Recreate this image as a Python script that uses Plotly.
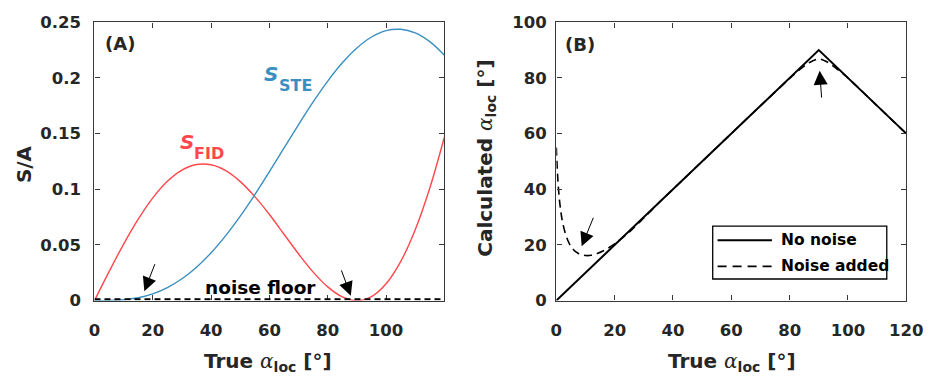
import plotly.graph_objects as go

# ---- data -------------------------------------------------------------
alpha_deg = [0, 5, 10, 15, 20, 25, 30, 35, 40, 45, 50, 55, 60,
             65, 70, 75, 80, 85, 90, 95, 100, 105, 110, 115, 120]
s_fid = [0.0, 0.0260, 0.0508, 0.0732, 0.0923, 0.1072, 0.1173, 0.1223,
         0.1220, 0.1167, 0.1069, 0.0934, 0.0773, 0.0596, 0.0419, 0.0256,
         0.0123, 0.0033, 0.0, 0.0036, 0.0151, 0.0350, 0.0637, 0.1012, 0.1470]
s_ste = [0.0, 0.0001, 0.0008, 0.0026, 0.0061, 0.0117, 0.0196, 0.0300,
         0.0430, 0.0584, 0.0759, 0.0953, 0.1159, 0.1371, 0.1582, 0.1785,
         0.1972, 0.2136, 0.2270, 0.2368, 0.2425, 0.2437, 0.2405, 0.2326, 0.2204]
noise_floor_x = [0, 120]
noise_floor_y = [0.0012, 0.0012]

true_alpha = [0, 90, 120]
calc_no_noise = [0, 90, 60]
true_alpha_noisy = [0, 0.5, 1, 1.5, 2, 3, 4, 5, 6, 7, 8, 10, 12, 14, 16, 18,
                    20, 22, 24, 26, 28, 30, 32, 35, 40, 50, 60, 70, 80, 83,
                    86, 88, 90, 92, 94, 97, 100, 110, 120]
calc_noisy = [55, 44, 37, 32.5, 29, 24.5, 21.5, 19.5, 18.2, 17.3, 16.7, 16.2,
              16.3, 16.9, 17.8, 19.0, 20.4, 22.0, 23.7, 25.6, 27.6, 29.7, 31.8,
              35, 40, 50, 60, 70, 79.8, 82.6, 85.0, 86.2, 86.8, 86.2, 85.0,
              82.6, 80, 70, 60]

# pointer arrows: (tail, tip) pairs in axis units
arrows_a = [((20.9, 0.0341), (17.1, 0.0085)), ((84.5, 0.0285), (87.9, 0.0043))]
arrows_b = [((12.9, 30.3), (8.7, 19.5)), ((91.0, 72.4), (90.3, 82.6))]

a_xticks = [0, 20, 40, 60, 80, 100]
a_yticks = [0, 0.05, 0.1, 0.15, 0.2, 0.25]
a_yticktext = ["0", "0.05", "0.1", "0.15", "0.2", "0.25"]
b_ticks = [0, 20, 40, 60, 80, 100, 120]
b_yticks = [0, 20, 40, 60, 80, 100]

# ---- styling ----------------------------------------------------------
RED = "#ff474c"
BLUE = "#3b8fc0"
FRAME = "#383838"
TXT = "#262626"
FONT = "DejaVu Sans"
W, H = 947, 386

fig = go.Figure()

fig.add_trace(go.Scatter(x=alpha_deg, y=s_fid, mode="lines", line_shape="spline",
                         line=dict(color=RED, width=1.4), xaxis="x", yaxis="y"))
fig.add_trace(go.Scatter(x=alpha_deg, y=s_ste, mode="lines", line_shape="spline",
                         line=dict(color=BLUE, width=1.4), xaxis="x", yaxis="y"))
fig.add_trace(go.Scatter(x=noise_floor_x, y=noise_floor_y, mode="lines",
                         line=dict(color="black", width=1.8, dash="6px,4px"),
                         xaxis="x", yaxis="y"))

fig.add_trace(go.Scatter(x=true_alpha, y=calc_no_noise, mode="lines",
                         line=dict(color="black", width=2), xaxis="x2", yaxis="y2"))
fig.add_trace(go.Scatter(x=true_alpha_noisy, y=calc_noisy, mode="lines",
                         line_shape="spline",
                         line=dict(color="black", width=1.6, dash="8px,5px"),
                         xaxis="x2", yaxis="y2"))

# plot-area geometry (pixels)
ax_l, ax_r = 90.7, 449.3
bx_l, bx_r = 564.0, 922.7
p_top, p_bot = 14.0, 306.7
ydom = [1 - p_bot / H, 1 - p_top / H]

common = dict(showgrid=False, zeroline=False, showline=True, linecolor=FRAME,
              linewidth=1.4, mirror="ticks", ticks="inside", ticklen=5,
              tickwidth=1.1, tickcolor=FRAME,
              tickfont=dict(family=FONT, size=16.5, color=TXT, weight="bold"))

fig.update_layout(
    width=W, height=H, margin=dict(l=0, r=0, t=0, b=0),
    paper_bgcolor="white", plot_bgcolor="white", showlegend=False,
    xaxis=dict(domain=[ax_l / W, ax_r / W], range=[0, 120], tickvals=a_xticks,
               anchor="y", ticklabelstandoff=14, layer="below traces", **common),
    yaxis=dict(domain=ydom, range=[0, 0.25], tickvals=a_yticks,
               ticktext=a_yticktext, anchor="x", ticklabelstandoff=9,
               layer="below traces", **common),
    xaxis2=dict(domain=[bx_l / W, bx_r / W], range=[0, 120], tickvals=b_ticks,
                anchor="y2", ticklabelstandoff=14, **common),
    yaxis2=dict(domain=ydom, range=[0, 100], tickvals=b_yticks, anchor="x2",
                ticklabelstandoff=5, **common),
)

ann = []


def label(text, x, y, size, xref="paper", yref="paper", color=TXT,
          angle=0, family=FONT, xanchor="center", yanchor="middle"):
    ann.append(dict(text=text, x=x, y=y, xref=xref, yref=yref, showarrow=False,
                    textangle=angle, xanchor=xanchor, yanchor=yanchor,
                    font=dict(family=family, size=size, color=color)))


def arrow(tail, tip, xr, yr):
    ann.append(dict(text="", x=tip[0], y=tip[1], ax=tail[0], ay=tail[1],
                    xref=xr, yref=yr, axref=xr, ayref=yr, showarrow=True,
                    arrowhead=2, arrowsize=2.8, arrowwidth=1, arrowcolor="black"))


alpha_html = "<span style='font-family:DejaVu Serif;font-style:italic;font-weight:normal'>α</span>"
x_title = "<b>True </b>" + alpha_html + "<sub><b>loc</b></sub><b> [°]</b>"

# panel A
label("<b>(A)</b>", 117 / W, 1 - 35.8 / H, 18)
label("<b>S/A</b>", 18.3 / W, 1 - 163.3 / H, 20, angle=-90)
label(x_title, 269 / W, 1 - 371 / H, 20)
label("<b>noise floor</b>", 56.9, 0.0119, 18.5, xref="x", yref="y", color="black")
label("<b><i>S</i></b>", 185 / W, 1 - 140 / H, 20, color=RED)
label("<b>FID</b>", 207.7 / W, 1 - 151.7 / H, 16, color=RED)
label("<b><i>S</i></b>", 271.7 / W, 1 - 68.3 / H, 20, color=BLUE)
label("<b>STE</b>", 297 / W, 1 - 80.3 / H, 16, color=BLUE)
for t, h in arrows_a:
    arrow(t, h, "x", "y")

# panel B
label("<b>(B)</b>", 588 / W, 1 - 37.5 / H, 18)
label(x_title, 743.8 / W, 1 - 371 / H, 20)
label("<b>Calculated </b>" + alpha_html + "<sub><b>loc</b></sub><b> [°]</b>",
      492 / W, 1 - 157.5 / H, 20, angle=-90)
for t, h in arrows_b:
    arrow(t, h, "x2", "y2")


# legend box for panel B
def bx(px):
    return (px - bx_l) / (bx_r - bx_l)


def by(py):
    return (p_bot - py) / (p_bot - p_top)


shapes = [
    dict(type="rect", xref="x2 domain", yref="y2 domain", x0=bx(724.3), x1=bx(902.7),
         y0=by(284), y1=by(228.3), line=dict(color="black", width=1.3),
         fillcolor="white", layer="above"),
    dict(type="line", xref="x2 domain", yref="y2 domain", x0=bx(729.3), x1=bx(785),
         y0=by(243.3), y1=by(243.3), line=dict(color="black", width=2)),
    dict(type="line", xref="x2 domain", yref="y2 domain", x0=bx(729.3), x1=bx(785),
         y0=by(270.7), y1=by(270.7), line=dict(color="black", width=1.6, dash="9px,6px")),
]
for txt, py in (("No noise", 243.3), ("Noise added", 270.7)):
    ann.append(dict(text="<b>" + txt + "</b>", x=bx(792.7), y=by(py),
                    xref="x2 domain", yref="y2 domain", showarrow=False,
                    xanchor="left", yanchor="middle",
                    font=dict(family=FONT, size=15.5, color="black")))

fig.update_layout(annotations=ann, shapes=shapes)
fig.write_html("out.html")
